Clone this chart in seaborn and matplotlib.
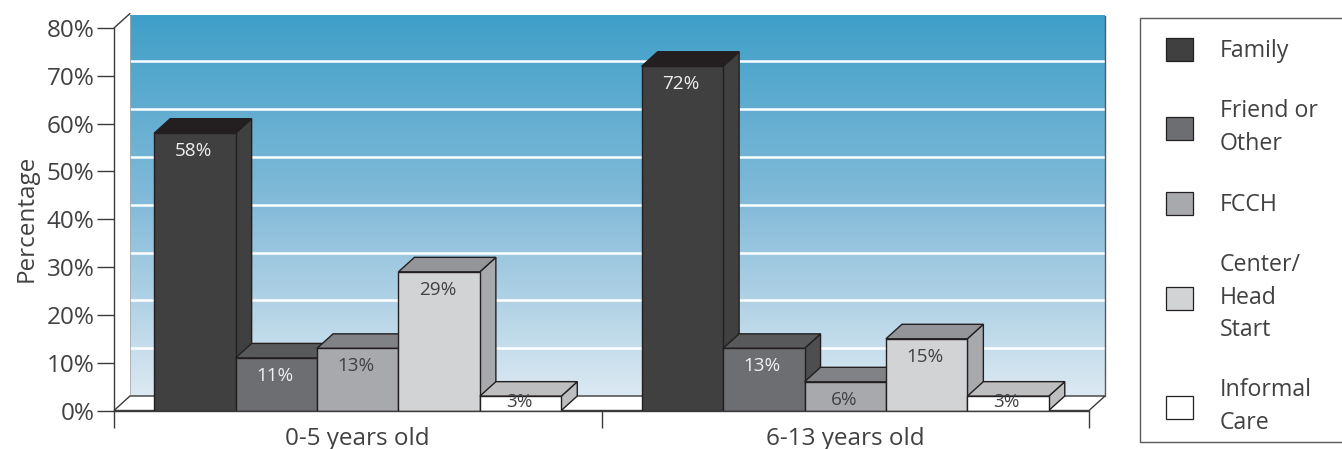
import numpy as np
import pandas as pd
import matplotlib
matplotlib.use("Agg")
import matplotlib.pyplot as plt
from matplotlib.colors import LinearSegmentedColormap
from matplotlib.patches import Patch, Polygon, Rectangle
from matplotlib.ticker import FixedLocator
import seaborn as sns

age_groups = ["0-5 years old", "6-13 years old"]
care_types = ["Family", "Friend or\nOther", "FCCH", "Center/\nHead\nStart", "Informal\nCare"]
family = [58, 72]
friend_other = [11, 13]
fcch = [13, 6]
center = [29, 15]
informal = [3, 3]
series = [family, friend_other, fcch, center, informal]

front_colors = ["#404041", "#6d6e71", "#a7a9ac", "#d1d3d4", "#ffffff"]
top_colors = ["#231f20", "#58595b", "#808285", "#939598", "#bcbec0"]
side_colors = ["#404041", "#4d4e50", "#77787b", "#a7a9ac", "#bcbec0"]
label_colors = ["#f1f1f2", "#f1f1f2", "#414042", "#414042", "#414042"]
INK = "#414042"
EDGE = "#231f20"

W, H = 1342, 449
sns.set_theme(style="white")
plt.rcParams["font.family"] = ["Open Sans", "DejaVu Sans"]

df = pd.DataFrame({
    "age": np.repeat(age_groups, len(care_types)),
    "care": care_types * len(age_groups),
    "value": [s[i] for i in range(len(age_groups)) for s in series],
})

fig = plt.figure(figsize=(W / 100, H / 100), dpi=100, facecolor="white")
L, R, T, B = 114, 1089, 28, 410.5
ax = fig.add_axes([L / W, 1 - B / H, (R - L) / W, (B - T) / H])
ax.patch.set_alpha(0)

sns.barplot(data=df, x="age", y="value", hue="care", hue_order=care_types,
            order=age_groups, palette=front_colors, width=0.835, gap=0,
            dodge=True, saturation=1, legend=False, ax=ax, errorbar=None,
            edgecolor=EDGE, linewidth=1.0)
ax.set_xlim(-0.5, 1.5)
ax.set_ylim(0, 80)
bars = [(k, b) for k, cont in enumerate(ax.containers) for b in cont]
bars.sort(key=lambda kb: kb[1].get_x())

px_x = 2 / (R - L)
px_y = 80 / (B - T)
dx, dy = 16 * px_x, 14.5 * px_y

# back wall and floor
grad = LinearSegmentedColormap.from_list("wall", ["#3f9fc8", "#84bbd9", "#dce9f2"])
wall_top = 80 + dy - 2 * px_y
ax.imshow(np.linspace(0, 1, 256)[:, None], cmap=grad, aspect="auto",
          extent=(-0.5 + dx, 1.5 + dx, dy, wall_top), zorder=0.5, clip_on=False)
ax.set_xlim(-0.5, 1.5)
ax.set_ylim(0, 80)
for v in range(10, 80, 10):
    ax.plot([-0.5 + dx, 1.5 + dx + 1 * px_x], [v + dy, v + dy], color="white", lw=1.8,
            zorder=0.7, clip_on=False)
ax.plot([-0.5 + dx, -0.5 + dx], [dy, wall_top], color="#a7a9ac", lw=0.6, zorder=0.8, clip_on=False)
ax.plot([1.5 + dx, 1.5 + dx], [dy, wall_top], color="#58595b", lw=1.0, zorder=0.8, clip_on=False)
ax.add_patch(Polygon([(-0.5, 0), (-0.5 + dx, dy), (1.5 + dx, dy), (1.5, 0)], closed=True,
                     facecolor="white", edgecolor="#3a3a3b", lw=1.0, zorder=0.9, clip_on=False))
ax.plot([-0.5, -0.5 + dx], [80, 80 + dy], color="#3a3a3b", lw=1.0, zorder=0.9, clip_on=False)

# 3-D faces derived from the bars seaborn drew
for order, (k, b) in enumerate(bars):
    x0, x1, h = b.get_x(), b.get_x() + b.get_width(), b.get_height()
    z = 3 + order
    b.set_zorder(z + 0.5)
    ax.add_patch(Polygon([(x1, 0), (x1 + dx, dy), (x1 + dx, h + dy), (x1, h)], closed=True,
                         facecolor=side_colors[k], edgecolor=EDGE, lw=1.0, zorder=z, clip_on=False))
    ax.add_patch(Polygon([(x0, h), (x0 + dx, h + dy), (x1 + dx, h + dy), (x1, h)], closed=True,
                         facecolor=top_colors[k], edgecolor=EDGE, lw=1.0, zorder=z + 0.2, clip_on=False))
    y_text = max(h - 18 * px_y, 1.7)
    ax.text((x0 + x1) / 2 - 1.5 * px_x, y_text, f"{int(h)}%", ha="center", va="center",
            fontsize=13.6, color=label_colors[k], zorder=z + 0.7)

# axes furniture
sns.despine(ax=ax, top=True, right=True, left=False, bottom=False)
for s in ("left", "bottom"):
    ax.spines[s].set_color("#3a3a3b")
    ax.spines[s].set_linewidth(1.0)
    ax.spines[s].set_zorder(20)
yt = list(range(0, 90, 10))
ax.set_yticks(yt)
ax.set_yticklabels([f"{v}%" for v in yt], fontsize=17.5, color=INK)
ax.tick_params(axis="y", left=True, length=12, width=1, color="#3a3a3b", pad=2)
ax.xaxis.set_minor_locator(FixedLocator([-0.5, 0.5, 1.5]))
ax.tick_params(axis="x", which="minor", bottom=True, length=12, width=1, color="#3a3a3b")
ax.tick_params(axis="x", which="major", bottom=False, length=0, pad=12, labelsize=17.5, labelcolor=INK)
ax.set_xlabel("")
ax.set_ylabel("")
fig.text(27 / W, 1 - 218 / H, "Percentage", rotation=90, ha="center", va="center", fontsize=17.5, color=INK)

# legend panel
fig.add_artist(Rectangle((1139.5 / W, 1 - 442 / H), 230 / W, 424 / H, transform=fig.transFigure,
                         facecolor="white", edgecolor="#58595b", lw=1.0))
handles = [Patch(facecolor=c, edgecolor=EDGE, lw=0.9) for c in front_colors]
FS = 16.7
fs_px = FS * 100 / 72
leg = fig.legend(handles, care_types, loc="upper left", bbox_to_anchor=(1166 / W, 1 - 38 / H),
                 bbox_transform=fig.transFigure, frameon=False, fontsize=FS,
                 labelspacing=1.55, handlelength=27 / fs_px, handleheight=27 / fs_px,
                 handletextpad=27 / fs_px, borderpad=0, borderaxespad=0, labelcolor=INK)
for t in leg.get_texts():
    t.set_linespacing(1.47)

fig.savefig("out.png", dpi=100)
